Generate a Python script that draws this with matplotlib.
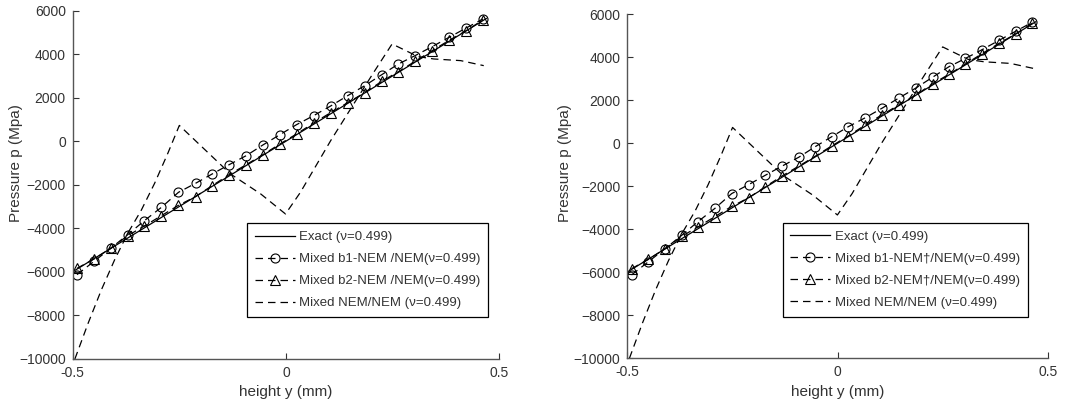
import matplotlib
matplotlib.use("Agg")
import matplotlib.pyplot as plt

plt.rcParams['font.family'] = ['Liberation Sans', 'DejaVu Sans']

# ── Data ───────────────────────────────────────────────────────────────────
y_exact = [-0.5, 0.47]
p_exact = [-5990, 5640]

y_nodes = [-0.490, -0.450, -0.410, -0.371, -0.332, -0.292, -0.252, -0.212,
           -0.173, -0.133, -0.093, -0.054, -0.014, 0.025, 0.065, 0.105,
           0.145, 0.185, 0.225, 0.264, 0.303, 0.343, 0.383, 0.423, 0.462]

p_b1 = [-6125, -5513, -4900, -4288, -3645, -3032, -2343, -1930, -1501,
        -1072, -658, -168, 306, 766, 1179, 1623, 2098, 2557, 3063, 3553,
        3936, 4349, 4778, 5207, 5620]

p_b2 = [-5835, -5406, -4900, -4334, -3890, -3415, -2940, -2542, -2037,
        -1531, -1072, -613, -123, 337, 842, 1317, 1776, 2236, 2757, 3201,
        3675, 4165, 4640, 5084, 5574]

y_nem = [-0.495, -0.464, -0.433, -0.402, -0.371, -0.339, -0.308, -0.277,
         -0.250, -0.130, -0.059, -0.001, 0.034, 0.105, 0.159, 0.206, 0.249,
         0.310, 0.347, 0.410, 0.464]
p_nem = [-10000, -8361, -6831, -5453, -4226, -3155, -1929, -551,
         730, -1501, -2420, -3338, -2343, 31, 1715, 3170, 4472,
         3890, 3782, 3706, 3476]

labels_left = ['Exact (ν=0.499)',
               'Mixed b1-NEM /NEM(ν=0.499)',
               'Mixed b2-NEM /NEM(ν=0.499)',
               'Mixed NEM/NEM (ν=0.499)']
labels_right = ['Exact (ν=0.499)',
                'Mixed b1-NEM†/NEM(ν=0.499)',
                'Mixed b2-NEM†/NEM(ν=0.499)',
                'Mixed NEM/NEM (ν=0.499)']

xticks = [-0.5, 0, 0.5]
yticks = [-10000, -8000, -6000, -4000, -2000, 0, 2000, 4000, 6000]

# ── Figure ──────────────────────────────────────────────────────────────────
fig = plt.figure(figsize=(10.81, 4.05), dpi=100)
ax_l = fig.add_axes([0.0673, 0.1136, 0.3944, 0.860])
ax_r = fig.add_axes([0.5803, 0.1153, 0.3895, 0.850])

dash = (0, (6, 4))
gray = '#333333'


def draw(ax, labels, leg_anchor, ylab_x, ylab_y, xlab_y):
    ax.plot(y_exact, p_exact, color='k', lw=0.9, label=labels[0])
    ax.plot(y_nodes, p_b1, color='k', lw=0.9, ls=dash, marker='o', ms=6.5,
            mfc='none', mec='k', mew=0.8, label=labels[1])
    ax.plot(y_nodes, p_b2, color='k', lw=0.9, ls=dash, marker='^', ms=6.5,
            mfc='none', mec='k', mew=0.8, label=labels[2])
    ax.plot(y_nem, p_nem, color='k', lw=0.9, ls=dash, label=labels[3])

    ax.set_xlim(-0.5, 0.5)
    ax.set_ylim(-10000, 6000)
    ax.set_xticks(xticks)
    ax.set_xticklabels(['-0.5', '0', '0.5'])
    ax.set_yticks(yticks)
    ax.tick_params(direction='in', length=4, width=0.8, colors=gray,
                   labelsize=10, pad=5)
    for s in ['top', 'right']:
        ax.spines[s].set_visible(False)
    for s in ['left', 'bottom']:
        ax.spines[s].set_color('#555555')
        ax.spines[s].set_linewidth(1.0)

    ax.set_xlabel('height y (mm)', fontsize=11, color=gray)
    ax.set_ylabel('Pressure p (Mpa)', fontsize=11, color=gray)
    ax.yaxis.set_label_coords(ylab_x, ylab_y)
    ax.xaxis.set_label_coords(0.5, xlab_y)

    leg = ax.legend(loc='lower right', bbox_to_anchor=leg_anchor,
                    fontsize=9.5, numpoints=1, handlelength=3.0,
                    handletextpad=0.35, labelspacing=0.74, borderpad=0.6,
                    borderaxespad=0, fancybox=False, framealpha=1,
                    edgecolor='k')
    leg.get_frame().set_linewidth(0.9)
    for t in leg.get_texts():
        t.set_color(gray)


draw(ax_l, labels_left, (0.975, 0.12), -0.117, 0.563, -0.075)
draw(ax_r, labels_right, (0.951, 0.121), -0.131, 0.567, -0.078)

fig.savefig('out.png', dpi=100)
